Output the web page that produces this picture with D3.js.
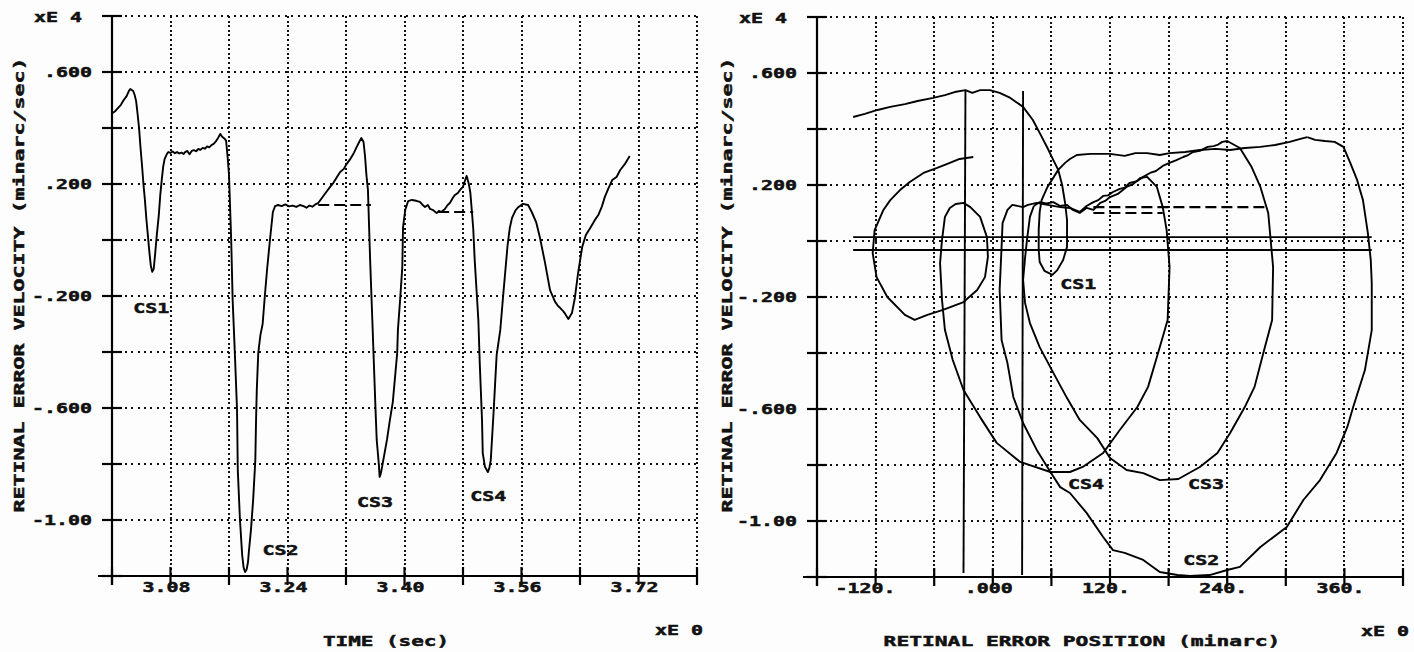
<!DOCTYPE html>
<html>
<head>
<meta charset="utf-8">
<script src="https://cdn.jsdelivr.net/npm/d3@7"></script>
<style>
  body { margin: 0; background: #fdfdfd; }
  svg text { font-family: "DejaVu Sans Mono", monospace; font-weight: bold; fill: #111; stroke: #111; stroke-width: 0.5; }
</style>
</head>
<body>
<svg id="fig" width="1414" height="652"></svg>
<script>
// shared velocity axis (x 1E4 minarc/sec)
var velTicks = [-1.2, -1.0, -0.8, -0.6, -0.4, -0.2, 0, 0.2, 0.4, 0.6, 0.8];
var velLabelValues = [0.6, 0.2, -0.2, -0.6, -1.0];
var velLabels = [".600", ".200", "-.200", "-.600", "-1.00"];

// left panel: time axis
var timeTicks = [3.00, 3.08, 3.16, 3.24, 3.32, 3.40, 3.48, 3.56, 3.64, 3.72, 3.80];
var timeLabelValues = [3.08, 3.24, 3.40, 3.56, 3.72];
var timeLabels = ["3.08", "3.24", "3.40", "3.56", "3.72"];

// right panel: position axis
var posTicks = [-180, -120, -60, 0, 60, 120, 180, 240, 300, 360, 420];
var posLabelValues = [-120, 0, 120, 240, 360];
var posLabels = ["-120.", ".000", "120.", "240.", "360."];

// retinal error velocity vs time [sec, vel]
var velocityTrace = [
  [3.001,0.454],[3.005,0.462],[3.008,0.471],[3.012,0.482],[3.016,0.500],[3.020,0.514],[3.023,0.532],
  [3.025,0.539],[3.027,0.536],[3.029,0.532],[3.031,0.518],[3.033,0.496],[3.035,0.450],[3.037,0.400],
  [3.039,0.330],[3.041,0.268],[3.043,0.200],[3.045,0.143],[3.047,0.075],[3.049,0.018],[3.051,-0.040],
  [3.053,-0.090],[3.055,-0.114],[3.057,-0.104],[3.059,-0.050],[3.061,0.010],[3.064,0.089],[3.066,0.160],
  [3.068,0.214],[3.070,0.262],[3.072,0.290],[3.075,0.307],[3.077,0.314],[3.080,0.311],[3.083,0.316],
  [3.086,0.310],[3.089,0.314],[3.092,0.309],[3.095,0.312],[3.098,0.307],[3.100,0.314],[3.103,0.318],
  [3.106,0.306],[3.109,0.318],[3.112,0.321],[3.115,0.317],[3.118,0.325],[3.121,0.322],[3.124,0.329],
  [3.127,0.326],[3.130,0.334],[3.133,0.331],[3.136,0.339],[3.139,0.343],[3.142,0.352],[3.145,0.364],
  [3.148,0.379],[3.150,0.371],[3.152,0.366],[3.154,0.362],[3.156,0.355],[3.158,0.300],[3.160,0.232],
  [3.163,0.000],[3.165,-0.214],[3.168,-0.404],[3.171,-0.607],[3.172,-0.821],[3.175,-1.000],[3.178,-1.125],
  [3.180,-1.170],[3.182,-1.186],[3.184,-1.178],[3.186,-1.150],[3.187,-1.118],[3.190,-1.036],[3.193,-0.929],
  [3.196,-0.786],[3.197,-0.643],[3.198,-0.536],[3.200,-0.404],[3.203,-0.339],[3.206,-0.300],[3.209,-0.200],
  [3.212,-0.107],[3.216,0.000],[3.220,0.100],[3.223,0.121],[3.227,0.125],[3.232,0.121],[3.237,0.127],
  [3.242,0.120],[3.247,0.123],[3.252,0.118],[3.257,0.125],[3.262,0.121],[3.266,0.115],[3.270,0.123],
  [3.274,0.119],[3.278,0.127],[3.282,0.132],[3.287,0.150],[3.292,0.168],[3.298,0.189],[3.303,0.205],
  [3.307,0.222],[3.312,0.243],[3.317,0.254],[3.321,0.272],[3.325,0.286],[3.330,0.307],[3.334,0.329],
  [3.338,0.350],[3.341,0.364],[3.344,0.350],[3.346,0.300],[3.348,0.230],[3.350,0.179],[3.353,-0.071],
  [3.356,-0.286],[3.360,-0.579],[3.362,-0.714],[3.365,-0.804],[3.366,-0.846],[3.368,-0.830],[3.371,-0.786],
  [3.376,-0.714],[3.380,-0.643],[3.384,-0.579],[3.390,-0.404],[3.391,-0.321],[3.394,-0.214],[3.397,-0.096],
  [3.398,0.046],[3.401,0.107],[3.405,0.139],[3.410,0.143],[3.416,0.140],[3.421,0.136],[3.425,0.125],
  [3.428,0.118],[3.432,0.125],[3.435,0.111],[3.439,0.107],[3.444,0.096],[3.447,0.104],[3.450,0.100],
  [3.455,0.110],[3.459,0.125],[3.462,0.132],[3.466,0.150],[3.469,0.161],[3.473,0.168],[3.476,0.179],
  [3.480,0.190],[3.483,0.214],[3.485,0.229],[3.488,0.200],[3.490,0.170],[3.492,0.107],[3.494,0.040],
  [3.496,-0.071],[3.499,-0.200],[3.501,-0.286],[3.503,-0.446],[3.506,-0.643],[3.507,-0.761],[3.510,-0.810],
  [3.514,-0.829],[3.516,-0.815],[3.518,-0.786],[3.522,-0.607],[3.526,-0.411],[3.531,-0.321],[3.535,-0.196],
  [3.541,-0.018],[3.544,0.043],[3.547,0.079],[3.552,0.107],[3.556,0.118],[3.562,0.129],[3.569,0.125],
  [3.574,0.100],[3.580,0.064],[3.585,0.011],[3.592,-0.079],[3.599,-0.179],[3.606,-0.221],[3.610,-0.236],
  [3.613,-0.243],[3.617,-0.254],[3.619,-0.261],[3.624,-0.282],[3.629,-0.261],[3.633,-0.207],[3.637,-0.125],
  [3.643,-0.025],[3.648,0.018],[3.654,0.043],[3.660,0.070],[3.665,0.089],[3.670,0.120],[3.674,0.154],
  [3.679,0.185],[3.684,0.214],[3.690,0.225],[3.695,0.250],[3.701,0.270],[3.708,0.300]
];
var velocityDashes = [
  [[3.282, 0.125], [3.354, 0.125]],
  [[3.446, 0.100], [3.494, 0.100]]
];
var timeNotes = [["CS1", 3.029, -0.243], ["CS2", 3.206, -1.107], ["CS3", 3.335, -0.936], ["CS4", 3.490, -0.914]];

// phase plane: [position minarc, vel]
var phaseCS1 = [
  [-143,0.443],[-131,0.454],[-118,0.468],[-105,0.479],[-90,0.489],[-77,0.500],[-61,0.511],[-49,0.521],
  [-39,0.532],[-28,0.539],[-21,0.529],[-13,0.539],[-3,0.539],[7,0.529],[18,0.511],[31,0.479],[41,0.432],
  [48,0.386],[56,0.332],[62,0.289],[67,0.254],[71,0.200],[74,0.136],[76,0.075],[76,-0.021],[72,-0.068],
  [66,-0.104],[61,-0.121],[53,-0.107],[48,-0.075],[47,-0.032],[47,0.039],[48,0.104],[50,0.146],[56,0.193],
  [67,0.254],[74,0.279],[79,0.293],[86,0.307],[100,0.311],[120,0.311],[135,0.304],[146,0.314],[158,0.314],
  [171,0.307],[181,0.314],[197,0.318],[212,0.325],[228,0.329],[243,0.325],[258,0.332],[274,0.336],
  [289,0.343],[304,0.354],[314,0.364],[322,0.371]
];
var phaseCS2 = [
  [322,0.371],[330,0.361],[340,0.357],[350,0.354],[359,0.336],[366,0.279],[373,0.218],[379,0.146],
  [384,0.029],[387,-0.068],[388,-0.150],[388,-0.318],[381,-0.461],[369,-0.593],[363,-0.664],[352,-0.757],
  [335,-0.854],[318,-0.925],[301,-1.021],[274,-1.093],[253,-1.164],[240,-1.175],[222,-1.193],[202,-1.196],
  [189,-1.193],[171,-1.182],[154,-1.139],[135,-1.114],[123,-1.104],[113,-1.057],[96,-0.971],[79,-0.900],
  [69,-0.879],[59,-0.825],[45,-0.746],[31,-0.650],[21,-0.557],[15,-0.436],[9,-0.354],[7,-0.175],
  [9,-0.021],[10,0.064],[15,0.111],[20,0.129],[31,0.121],[36,0.129],[45,0.136],[56,0.129],[69,0.121],
  [79,0.118],[89,0.104]
];
var phaseCS3 = [
  [89,0.104],[96,0.125],[103,0.139],[108,0.146],[113,0.161],[118,0.163],[123,0.175],[130,0.186],
  [135,0.190],[140,0.207],[148,0.214],[154,0.229],[161,0.243],[167,0.250],[174,0.268],[181,0.279],
  [188,0.289],[195,0.300],[200,0.307],[205,0.318],[212,0.322],[220,0.336],[226,0.339],[230,0.343],
  [235,0.354],[240,0.357],[253,0.332],[265,0.264],[274,0.193],[282,0.100],[287,-0.093],[286,-0.282],
  [277,-0.400],[268,-0.521],[258,-0.593],[243,-0.686],[230,-0.757],[212,-0.807],[190,-0.850],[171,-0.854],
  [154,-0.829],[137,-0.818],[120,-0.775],[107,-0.704],[89,-0.639],[76,-0.561],[62,-0.471],[48,-0.379],
  [38,-0.293],[33,-0.221],[31,-0.139],[33,-0.061],[35,0.004],[38,0.086],[42,0.125]
];
var phaseCS4 = [
  [42,0.125],[48,0.139],[55,0.134],[62,0.139],[69,0.125],[76,0.129],[82,0.111],[89,0.100],[96,0.118],
  [103,0.111],[110,0.136],[115,0.143],[120,0.157],[128,0.168],[137,0.193],[144,0.204],[151,0.225],
  [158,0.229],[168,0.193],[174,0.121],[178,0.039],[181,-0.093],[179,-0.282],[174,-0.343],[168,-0.414],
  [159,-0.521],[148,-0.593],[130,-0.675],[113,-0.757],[92,-0.807],[79,-0.825],[59,-0.825]
];
var phaseEnd = [
  [59,-0.825],[28,-0.789],[4,-0.721],[-13,-0.629],[-30,-0.532],[-41,-0.425],[-49,-0.318],[-52,-0.211],
  [-54,-0.079],[-52,0.004],[-49,0.086],[-44,0.118],[-38,0.132],[-30,0.136],[-23,0.121],[-13,0.086],
  [-6,0.014],[-5,-0.057],[-8,-0.129],[-16,-0.175],[-30,-0.218],[-51,-0.246],[-67,-0.264],[-80,-0.282],
  [-90,-0.264],[-108,-0.200],[-119,-0.129],[-123,-0.043],[-121,0.039],[-112,0.111],[-105,0.146],
  [-95,0.182],[-85,0.211],[-71,0.243],[-57,0.261],[-44,0.279],[-34,0.293],[-20,0.300]
];
var phaseRules = [
  [[-28, 0.539], [-30, -1.186]],
  [[31, 0.536], [30, -1.193]],
  [[-143, 0.014], [388, 0.014]],
  [[-143, -0.032], [388, -0.032]]
];
var phaseDashes = [
  [[103, 0.121], [282, 0.121]],
  [[103, 0.100], [174, 0.100]]
];
var phaseNotes = [["CS1", 69, -0.154], ["CS4", 77, -0.868], ["CS3", 200, -0.868], ["CS2", 195, -1.139]];

var svg = d3.select("#fig");

function label(g, x, y, str, anchor, size, charW) {
  return g.append("text")
    .attr("x", x).attr("y", y)
    .attr("text-anchor", anchor)
    .attr("font-size", size)
    .attr("textLength", str.length * charW)
    .attr("lengthAdjust", "spacingAndGlyphs")
    .text(str);
}

function drawPanel(cfg) {
  var g = svg.append("g");
  var x = d3.scaleLinear().domain(cfg.xDomain).range([cfg.left, cfg.right]);
  var y = d3.scaleLinear().domain([-1.2, 0.8]).range([cfg.bottom, cfg.top]);

  // dotted grid, snapped to whole pixels so the dots stay dark
  g.selectAll(".hg").data(velTicks.slice(1)).enter().append("line")
    .attr("x1", cfg.left).attr("x2", cfg.right)
    .attr("y1", function (d) { return Math.round(y(d)); }).attr("y2", function (d) { return Math.round(y(d)); })
    .attr("stroke", "#111").attr("stroke-width", 2).attr("stroke-dasharray", "2,4.4")
    .attr("shape-rendering", "crispEdges");
  g.selectAll(".vg").data(cfg.xTicks.slice(1)).enter().append("line")
    .attr("x1", function (d) { return Math.round(x(d)); }).attr("x2", function (d) { return Math.round(x(d)); })
    .attr("y1", cfg.top).attr("y2", cfg.bottom)
    .attr("stroke", "#111").attr("stroke-width", 2).attr("stroke-dasharray", "2,2.6")
    .attr("shape-rendering", "crispEdges");

  // axes with crossing ticks
  g.append("line").attr("x1", cfg.left).attr("x2", cfg.left)
    .attr("y1", cfg.top).attr("y2", cfg.bottom + 9)
    .attr("stroke", "#000").attr("stroke-width", 2.2);
  g.append("line").attr("x1", cfg.left - 14).attr("x2", cfg.right)
    .attr("y1", cfg.bottom).attr("y2", cfg.bottom)
    .attr("stroke", "#000").attr("stroke-width", 2.2);
  g.selectAll(".yt").data(velTicks).enter().append("line")
    .attr("x1", cfg.left - 10).attr("x2", cfg.left + 10)
    .attr("y1", function (d) { return y(d); }).attr("y2", function (d) { return y(d); })
    .attr("stroke", "#000").attr("stroke-width", 2.2);
  g.selectAll(".xt").data(cfg.xTicks).enter().append("line")
    .attr("x1", function (d) { return x(d); }).attr("x2", function (d) { return x(d); })
    .attr("y1", cfg.bottom - 9).attr("y2", cfg.bottom + 9)
    .attr("stroke", "#000").attr("stroke-width", 2.2);

  // tick labels
  velLabelValues.forEach(function (v, i) {
    label(g, cfg.left - 20, y(v) + 5, velLabels[i], "end", 14, 12);
  });
  cfg.xLabelValues.forEach(function (v, i) {
    label(g, x(v) + 20, cfg.bottom + 16, cfg.xLabels[i], "end", 14, 12);
  });
  label(g, cfg.left - 78, cfg.top + 6, "xE 4", "start", 14, 12);
  label(g, cfg.right + 6, cfg.bottom + 59, "xE 0", "end", 14, 12);

  // titles
  label(g, cfg.xTitleX, 646, cfg.xTitle, "middle", 14.5, cfg.xTitleW);
  label(g, 0, 0, "RETINAL ERROR VELOCITY (minarc/sec)", "middle", 14.5, 13)
    .attr("transform", "translate(" + cfg.yTitleX + ",285) rotate(-90)");

  var line = d3.line().x(function (d) { return x(d[0]); }).y(function (d) { return y(d[1]); });
  cfg.traces.forEach(function (t) {
    g.append("path").attr("d", line(t)).attr("fill", "none")
      .attr("stroke", "#000").attr("stroke-width", 1.9).attr("stroke-linejoin", "round");
  });
  (cfg.rules || []).forEach(function (t) {
    g.append("path").attr("d", line(t)).attr("fill", "none")
      .attr("stroke", "#000").attr("stroke-width", 1.9);
  });
  cfg.dashes.forEach(function (t) {
    g.append("path").attr("d", line(t)).attr("fill", "none")
      .attr("stroke", "#000").attr("stroke-width", 2.1).attr("stroke-dasharray", "11,5");
  });
  cfg.notes.forEach(function (n) {
    label(g, x(n[1]), y(n[2]) + 5, n[0], "start", 14, 12);
  });
}

drawPanel({
  left: 112, right: 697, top: 16, bottom: 576,
  xDomain: [3.00, 3.80], xTicks: timeTicks,
  xLabelValues: timeLabelValues, xLabels: timeLabels,
  xTitle: "TIME (sec)", xTitleX: 386, xTitleW: 12.6, yTitleX: 24,
  traces: [velocityTrace], dashes: velocityDashes, notes: timeNotes
});

drawPanel({
  left: 817, right: 1403, top: 17, bottom: 577,
  xDomain: [-180, 420], xTicks: posTicks,
  xLabelValues: posLabelValues, xLabels: posLabels,
  xTitle: "RETINAL ERROR POSITION (minarc)", xTitleX: 1082, xTitleW: 12.8, yTitleX: 732,
  traces: [phaseCS1, phaseCS2, phaseCS3, phaseCS4, phaseEnd],
  rules: phaseRules, dashes: phaseDashes, notes: phaseNotes
});
</script>
</body>
</html>
